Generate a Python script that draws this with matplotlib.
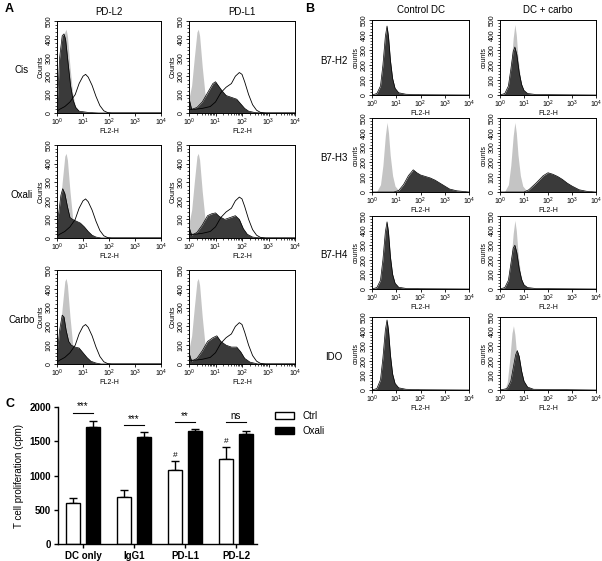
import matplotlib
matplotlib.use("Agg")
import matplotlib.pyplot as plt
import numpy as np
from matplotlib.ticker import MultipleLocator, LogLocator

plt.rcParams['font.family'] = ['Liberation Sans', 'DejaVu Sans']

W, H = 602, 561

# ---------- data: histogram curves as (log10 FL2-H, counts) ----------
iso_a = [(0, 80), (0.1, 150), (0.2, 300), (0.3, 440), (0.35, 455), (0.4, 420), (0.5, 250),
         (0.6, 110), (0.7, 40), (0.85, 10), (1.2, 0), (4, 0)]
pdl2_open = [(0, 10), (0.1, 20), (0.3, 35), (0.5, 60), (0.7, 100), (0.85, 160), (1.0, 200),
             (1.1, 210), (1.2, 195), (1.35, 150), (1.5, 90), (1.65, 40), (1.8, 12), (1.95, 2),
             (2.1, 0), (4, 0)]
pdl1_open = [(0, 20), (0.2, 20), (0.5, 25), (0.8, 35), (1.0, 60), (1.2, 110), (1.4, 140),
             (1.6, 160), (1.75, 200), (1.9, 220), (2.0, 210), (2.1, 170), (2.25, 100),
             (2.4, 45), (2.55, 15), (2.7, 3), (2.9, 0), (4, 0)]
cis_pdl2 = [(0, 30), (0.05, 150), (0.1, 300), (0.2, 420), (0.27, 430), (0.33, 400), (0.42, 280),
            (0.52, 150), (0.62, 70), (0.72, 30), (0.85, 10), (1.2, 3), (1.6, 0), (4, 0)]
oxali_pdl2 = [(0, 170), (0.03, 100), (0.08, 150), (0.15, 230), (0.22, 265), (0.3, 240),
              (0.4, 170), (0.5, 110), (0.6, 100), (0.75, 90), (0.9, 80), (1.05, 60),
              (1.2, 35), (1.35, 15), (1.5, 5), (1.7, 0), (4, 0)]
carbo_pdl2 = [(0, 150), (0.03, 80), (0.1, 180), (0.2, 260), (0.27, 250), (0.35, 180),
              (0.45, 120), (0.55, 100), (0.7, 90), (0.85, 85), (1.0, 60), (1.15, 35),
              (1.3, 15), (1.5, 5), (1.7, 0), (4, 0)]
cis_pdl1 = [(0, 80), (0.1, 20), (0.3, 30), (0.5, 60), (0.7, 110), (0.9, 160), (1.0, 170),
            (1.1, 150), (1.25, 120), (1.4, 95), (1.6, 85), (1.8, 75), (1.95, 50), (2.1, 25),
            (2.25, 10), (2.5, 2), (2.8, 0), (4, 0)]
oxali_pdl1 = [(0, 60), (0.1, 15), (0.3, 30), (0.5, 70), (0.7, 120), (0.85, 130), (1.0, 135),
              (1.15, 115), (1.35, 100), (1.55, 110), (1.75, 120), (1.9, 100), (2.05, 50),
              (2.2, 20), (2.4, 5), (2.7, 0), (4, 0)]
carbo_pdl1 = [(0, 60), (0.1, 15), (0.3, 30), (0.5, 70), (0.7, 120), (0.9, 140), (1.05, 150),
              (1.2, 120), (1.4, 100), (1.6, 90), (1.8, 90), (1.95, 65), (2.1, 30), (2.3, 10),
              (2.6, 0), (4, 0)]

iso_b = [(0, 0), (0.2, 5), (0.35, 50), (0.45, 180), (0.55, 380), (0.62, 470), (0.68, 400),
         (0.75, 250), (0.85, 110), (0.95, 40), (1.1, 10), (1.4, 2), (4, 0)]
iso_b_ido = [(0, 0), (0.2, 5), (0.3, 50), (0.4, 200), (0.5, 390), (0.56, 440), (0.62, 380),
             (0.7, 230), (0.8, 100), (0.9, 35), (1.05, 10), (1.4, 2), (4, 0)]
ctrl_h2 = [(0, 0), (0.2, 10), (0.35, 60), (0.45, 200), (0.55, 390), (0.62, 460), (0.68, 390),
           (0.76, 230), (0.85, 110), (0.95, 45), (1.1, 15), (1.4, 5), (2, 2), (4, 0)]
ctrl_h3 = [(0, 0), (0.9, 0), (1.1, 10), (1.3, 50), (1.5, 110), (1.7, 150), (1.85, 130),
           (2.0, 115), (2.2, 105), (2.4, 95), (2.6, 80), (2.8, 60), (3.0, 40), (3.2, 20),
           (3.5, 8), (4, 0)]
ctrl_h4 = [(0, 0), (0.2, 10), (0.35, 60), (0.45, 200), (0.55, 390), (0.62, 460), (0.68, 390),
           (0.76, 220), (0.85, 100), (0.95, 40), (1.1, 12), (1.4, 4), (2, 2), (4, 0)]
ctrl_ido = [(0, 0), (0.2, 10), (0.35, 70), (0.45, 220), (0.55, 410), (0.62, 480), (0.68, 410),
            (0.76, 240), (0.85, 110), (0.95, 45), (1.1, 15), (1.4, 5), (2, 2), (4, 0)]
carbo_h2 = [(0, 0), (0.2, 10), (0.35, 60), (0.45, 170), (0.55, 290), (0.62, 320), (0.7, 270),
            (0.8, 150), (0.9, 70), (1.0, 30), (1.15, 10), (1.5, 3), (4, 0)]
carbo_h3 = [(0, 0), (1.0, 0), (1.2, 15), (1.5, 60), (1.8, 110), (2.0, 130), (2.2, 120),
            (2.4, 105), (2.6, 85), (2.8, 60), (3.0, 40), (3.3, 15), (3.6, 5), (4, 0)]
carbo_h4 = [(0, 0), (0.2, 10), (0.35, 60), (0.45, 170), (0.55, 280), (0.62, 300), (0.7, 250),
            (0.8, 140), (0.9, 65), (1.0, 28), (1.15, 10), (1.5, 3), (4, 0)]
carbo_ido = [(0, 0), (0.3, 10), (0.45, 60), (0.55, 150), (0.65, 240), (0.72, 270), (0.8, 230),
             (0.9, 130), (1.0, 60), (1.15, 20), (1.4, 5), (4, 0)]

a_cols = ["PD-L2", "PD-L1"]
a_rows = ["Cis", "Oxali", "Carbo"]
a_dark = [[cis_pdl2, cis_pdl1], [oxali_pdl2, oxali_pdl1], [carbo_pdl2, carbo_pdl1]]
a_open = [pdl2_open, pdl1_open]

b_cols = ["Control DC", "DC + carbo"]
b_rows = ["B7-H2", "B7-H3", "B7-H4", "IDO"]
b_dark = [[ctrl_h2, carbo_h2], [ctrl_h3, carbo_h3], [ctrl_h4, carbo_h4], [ctrl_ido, carbo_ido]]
b_grey = [[None, iso_b], [iso_b, iso_b], [None, iso_b], [None, iso_b_ido]]

# ---------- panel C data ----------
groups = ["DC only", "IgG1", "PD-L1", "PD-L2"]
ctrl_mean = [600, 690, 1075, 1245]
ctrl_err = [70, 105, 140, 175]
oxali_mean = [1710, 1560, 1645, 1610]
oxali_err = [80, 75, 40, 35]
sig_labels = ["***", "***", "**", "ns"]
sig_y = [1917, 1737, 1776, 1776]

GREY = "#c4c4c4"
DARK = "#3a3a3a"

fig = plt.figure(figsize=(W / 100, H / 100), dpi=100)


def px_axes(x0, y0, x1, y1):
    return fig.add_axes([x0 / W, 1 - y1 / H, (x1 - x0) / W, (y1 - y0) / H])


def unzip(curve):
    lx = np.array([p[0] for p in curve])
    y = np.array([p[1] for p in curve])
    return 10 ** lx, y


def hist_axes(ax, ylab):
    ax.set_xscale("log")
    ax.set_xlim(1, 1e4)
    ax.set_ylim(0, 500)
    ax.xaxis.set_major_locator(LogLocator(base=10, numticks=10))
    ax.yaxis.set_major_locator(MultipleLocator(100))
    ax.yaxis.set_minor_locator(MultipleLocator(20))
    ax.tick_params(labelsize=5, length=2, width=0.6, pad=1)
    ax.tick_params(which="minor", length=1.2, width=0.5)
    plt.setp(ax.get_yticklabels(), rotation=90, va="center")
    ax.set_ylabel(ylab, fontsize=5, labelpad=1)
    ax.set_xlabel("FL2-H", fontsize=5, labelpad=0)
    for s in ax.spines.values():
        s.set_linewidth(0.7)


# ---------- panel A ----------
a_x = [(57, 161), (189, 295)]
a_y = [(21, 113), (145, 238), (270, 364)]
for r in range(3):
    for c in range(2):
        ax = px_axes(a_x[c][0], a_y[r][0], a_x[c][1], a_y[r][1])
        x, y = unzip(iso_a)
        ax.fill_between(x, y, color=GREY, lw=0)
        x, y = unzip(a_dark[r][c])
        ax.fill_between(x, y, color=DARK, lw=0)
        ax.plot(x, y, color="black", lw=0.5)
        x, y = unzip(a_open[c])
        ax.plot(x, y, color="black", lw=0.6)
        hist_axes(ax, "Counts")
for c in range(2):
    fig.text((a_x[c][0] + a_x[c][1]) / 2 / W, 1 - 12 / H, a_cols[c], ha="center", va="center", fontsize=7)
for r in range(3):
    fig.text(22 / W, 1 - ((a_y[r][0] + a_y[r][1]) / 2 + 3) / H, a_rows[r], ha="center", va="center", fontsize=7)
fig.text(5 / W, 1 - 9 / H, "A", fontsize=9, fontweight="bold", va="center")

# ---------- panel B ----------
b_x = [(372, 469), (500, 596)]
b_y = [(20, 95), (118, 192), (216, 289), (317, 390)]
for r in range(4):
    for c in range(2):
        ax = px_axes(b_x[c][0], b_y[r][0], b_x[c][1], b_y[r][1])
        if b_grey[r][c] is not None:
            x, y = unzip(b_grey[r][c])
            ax.fill_between(x, y, color=GREY, lw=0)
        x, y = unzip(b_dark[r][c])
        ax.fill_between(x, y, color=DARK, lw=0)
        ax.plot(x, y, color="black", lw=0.5)
        hist_axes(ax, "counts")
for c in range(2):
    fig.text((b_x[c][0] + b_x[c][1]) / 2 / W, 1 - 10 / H, b_cols[c], ha="center", va="center", fontsize=7)
for r in range(4):
    fig.text(334 / W, 1 - ((b_y[r][0] + b_y[r][1]) / 2 + 3) / H, b_rows[r], ha="center", va="center", fontsize=7)
fig.text(305 / W, 1 - 9 / H, "B", fontsize=9, fontweight="bold", va="center")

# ---------- panel C ----------
axc = px_axes(58, 407, 257, 544)
pos = np.arange(len(groups))
bw = 0.27
off = 0.19
axc.bar(pos - off, ctrl_mean, bw, color="white", edgecolor="black", lw=1, label="Ctrl", zorder=2)
axc.bar(pos + off, oxali_mean, bw, color="black", edgecolor="black", lw=1, label="Oxali", zorder=2)
axc.errorbar(pos - off, ctrl_mean, yerr=[np.zeros(4), ctrl_err], fmt="none", ecolor="black",
             elinewidth=1, capsize=3, capthick=1, zorder=1)
axc.errorbar(pos + off, oxali_mean, yerr=[np.zeros(4), oxali_err], fmt="none", ecolor="black",
             elinewidth=1, capsize=3, capthick=1, zorder=1)
for i in range(len(groups)):
    axc.plot([pos[i] - off, pos[i] + off], [sig_y[i], sig_y[i]], color="black", lw=0.8, clip_on=False)
    axc.text(pos[i], sig_y[i] + 20, sig_labels[i], ha="center", va="bottom", fontsize=7, clip_on=False)
for i in [2, 3]:
    axc.text(pos[i] - off, ctrl_mean[i] + ctrl_err[i] + 30, "#", ha="center", va="bottom", fontsize=6)
axc.set_xlim(-0.49, 3.41)
axc.set_ylim(0, 2000)
axc.set_xticks(pos)
axc.set_xticklabels(groups, fontsize=7, fontweight="bold")
axc.set_yticks([0, 500, 1000, 1500, 2000])
axc.set_yticklabels(["0", "500", "1000", "1500", "2000"], fontsize=7, fontweight="bold")
axc.tick_params(length=3, width=1, pad=2)
axc.spines["top"].set_visible(False)
axc.spines["right"].set_visible(False)
axc.spines["left"].set_linewidth(1)
axc.spines["bottom"].set_linewidth(1)
axc.set_ylabel("T cell proliferation (cpm)", fontsize=7)
axc.legend(loc="upper left", bbox_to_anchor=(1.07, 1.0), frameon=False, fontsize=7,
           handlelength=2.0, handleheight=0.8, labelspacing=0.5, borderaxespad=0)
fig.text(5 / W, 1 - 404 / H, "C", fontsize=9, fontweight="bold", va="center")

fig.savefig("out.png", dpi=100)
